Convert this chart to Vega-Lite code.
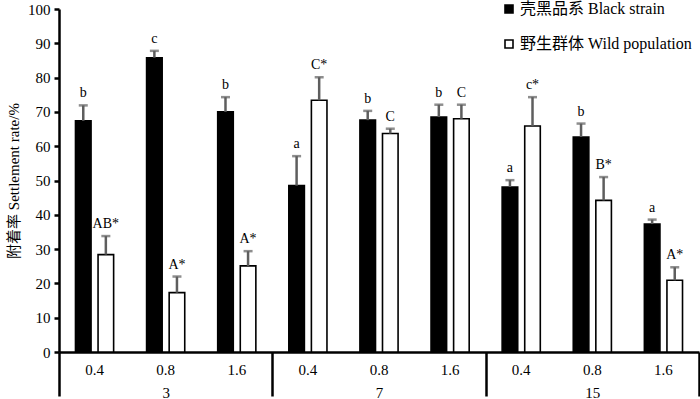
{
  "$schema": "https://vega.github.io/schema/vega-lite/v6.json",
  "width": 640,
  "height": 343,
  "autosize": {"type": "none"},
  "padding": {"left": 59, "top": 9, "right": 1, "bottom": 47},
  "config": {
    "font": "Liberation Serif, Noto Sans CJK SC",
    "view": {"stroke": null},
    "axis": {"grid": false},
    "axisY": {"tickCount": 12, "labelOverlap": false}
  },
  "data": {
    "values": [
      {"days": "3", "grp": "3-0.4", "series": "壳黑品系 Black strain", "value": 67.4, "upper": 71.9, "label": "b"},
      {"days": "3", "grp": "3-0.4", "series": "野生群体 Wild population", "value": 28.4, "upper": 33.8, "label": "AB*"},
      {"days": "3", "grp": "3-0.8", "series": "壳黑品系 Black strain", "value": 85.8, "upper": 87.8, "label": "c"},
      {"days": "3", "grp": "3-0.8", "series": "野生群体 Wild population", "value": 17.3, "upper": 22.0, "label": "A*"},
      {"days": "3", "grp": "3-1.6", "series": "壳黑品系 Black strain", "value": 70.0, "upper": 74.3, "label": "b"},
      {"days": "3", "grp": "3-1.6", "series": "野生群体 Wild population", "value": 25.1, "upper": 29.4, "label": "A*"},
      {"days": "7", "grp": "7-0.4", "series": "壳黑品系 Black strain", "value": 48.5, "upper": 57.1, "label": "a"},
      {"days": "7", "grp": "7-0.4", "series": "野生群体 Wild population", "value": 73.4, "upper": 80.1, "label": "C*"},
      {"days": "7", "grp": "7-0.8", "series": "壳黑品系 Black strain", "value": 67.6, "upper": 70.3, "label": "b"},
      {"days": "7", "grp": "7-0.8", "series": "野生群体 Wild population", "value": 63.7, "upper": 65.1, "label": "C"},
      {"days": "7", "grp": "7-1.6", "series": "壳黑品系 Black strain", "value": 68.5, "upper": 72.1, "label": "b"},
      {"days": "7", "grp": "7-1.6", "series": "野生群体 Wild population", "value": 68.0, "upper": 72.1, "label": "C"},
      {"days": "15", "grp": "15-0.4", "series": "壳黑品系 Black strain", "value": 48.1, "upper": 50.1, "label": "a"},
      {"days": "15", "grp": "15-0.4", "series": "野生群体 Wild population", "value": 65.9, "upper": 74.3, "label": "c*"},
      {"days": "15", "grp": "15-0.8", "series": "壳黑品系 Black strain", "value": 62.7, "upper": 66.6, "label": "b"},
      {"days": "15", "grp": "15-0.8", "series": "野生群体 Wild population", "value": 44.2, "upper": 51.0, "label": "B*"},
      {"days": "15", "grp": "15-1.6", "series": "壳黑品系 Black strain", "value": 37.3, "upper": 38.6, "label": "a"},
      {"days": "15", "grp": "15-1.6", "series": "野生群体 Wild population", "value": 20.9, "upper": 24.7, "label": "A*"}
    ]
  },
  "resolve": {"scale": {"x": "independent"}, "axis": {"x": "independent"}},
  "layer": [
    {
      "layer": [
        {
          "mark": {"type": "bar", "stroke": "black", "strokeWidth": 1.6},
          "encoding": {
            "x": {
              "field": "grp", "type": "nominal",
              "scale": {"domain": ["3-0.4", "3-0.8", "3-1.6", "7-0.4", "7-0.8", "7-1.6", "15-0.4", "15-0.8", "15-1.6"], "paddingInner": 0, "paddingOuter": 0},
              "axis": {
                "orient": "bottom", "title": null, "ticks": false, "tickSize": 0,
                "labelExpr": "split(datum.label, '-')[1]", "labelAngle": 0,
                "labelFontSize": 15, "labelColor": "black", "labelPadding": 10,
                "domainColor": "black", "domainWidth": 2.5
              }
            },
            "xOffset": {
              "field": "series", "type": "nominal",
              "scale": {"domain": ["壳黑品系 Black strain", "野生群体 Wild population"], "paddingInner": 0.31, "paddingOuter": 0.73}
            },
            "y": {
              "field": "value", "type": "quantitative",
              "scale": {"domain": [0, 100], "nice": false},
              "axis": {
                "values": [0, 10, 20, 30, 40, 50, 60, 70, 80, 90, 100], "tickCount": 12, "labelOverlap": false,
                "title": "附着率 Settlement rate/%", "titleFontSize": 15, "titleFontWeight": "normal", "titleColor": "black", "titlePadding": 6,
                "labelFontSize": 15, "labelColor": "black", "labelPadding": 4,
                "tickSize": 5, "tickWidth": 2.5, "tickColor": "black",
                "domainColor": "black", "domainWidth": 2.5
              }
            },
            "fill": {
              "field": "series", "type": "nominal",
              "scale": {"domain": ["壳黑品系 Black strain", "野生群体 Wild population"], "range": ["black", "white"]},
              "legend": {
                "title": null, "orient": "none", "legendX": 442, "legendY": -8,
                "symbolType": "square", "symbolSize": 64, "symbolStrokeColor": "black", "symbolStrokeWidth": 1.6,
                "labelFontSize": 16, "labelColor": "black", "labelOffset": 3, "labelLimit": 0, "rowPadding": 19, "padding": 0
              }
            }
          }
        },
        {
          "mark": {"type": "rule", "color": "#5e5e5e", "strokeWidth": 2.5},
          "encoding": {
            "x": {"field": "grp", "type": "nominal"},
            "xOffset": {"field": "series", "type": "nominal"},
            "y": {"field": "value", "type": "quantitative"},
            "y2": {"field": "upper"}
          }
        },
        {
          "mark": {"type": "tick", "color": "#5e5e5e", "size": 9, "thickness": 2.5, "orient": "horizontal"},
          "encoding": {
            "x": {"field": "grp", "type": "nominal"},
            "xOffset": {"field": "series", "type": "nominal"},
            "y": {"field": "upper", "type": "quantitative"}
          }
        },
        {
          "mark": {"type": "text", "fontSize": 14, "color": "black", "baseline": "alphabetic", "dy": -8},
          "encoding": {
            "x": {"field": "grp", "type": "nominal"},
            "xOffset": {"field": "series", "type": "nominal"},
            "y": {"field": "upper", "type": "quantitative"},
            "text": {"field": "label"}
          }
        }
      ]
    },
    {
      "mark": {"type": "rule", "opacity": 0},
      "encoding": {
        "x": {
          "field": "days", "type": "nominal",
          "scale": {"domain": ["3", "7", "15"], "paddingInner": 0, "paddingOuter": 0},
          "axis": {
            "orient": "bottom", "title": null, "domain": false,
            "ticks": true, "tickBand": "extent", "tickSize": 44, "tickWidth": 2.5, "tickColor": "black",
            "labelAngle": 0, "labelFontSize": 15, "labelColor": "black", "labelPadding": -11
          }
        }
      }
    }
  ]
}
